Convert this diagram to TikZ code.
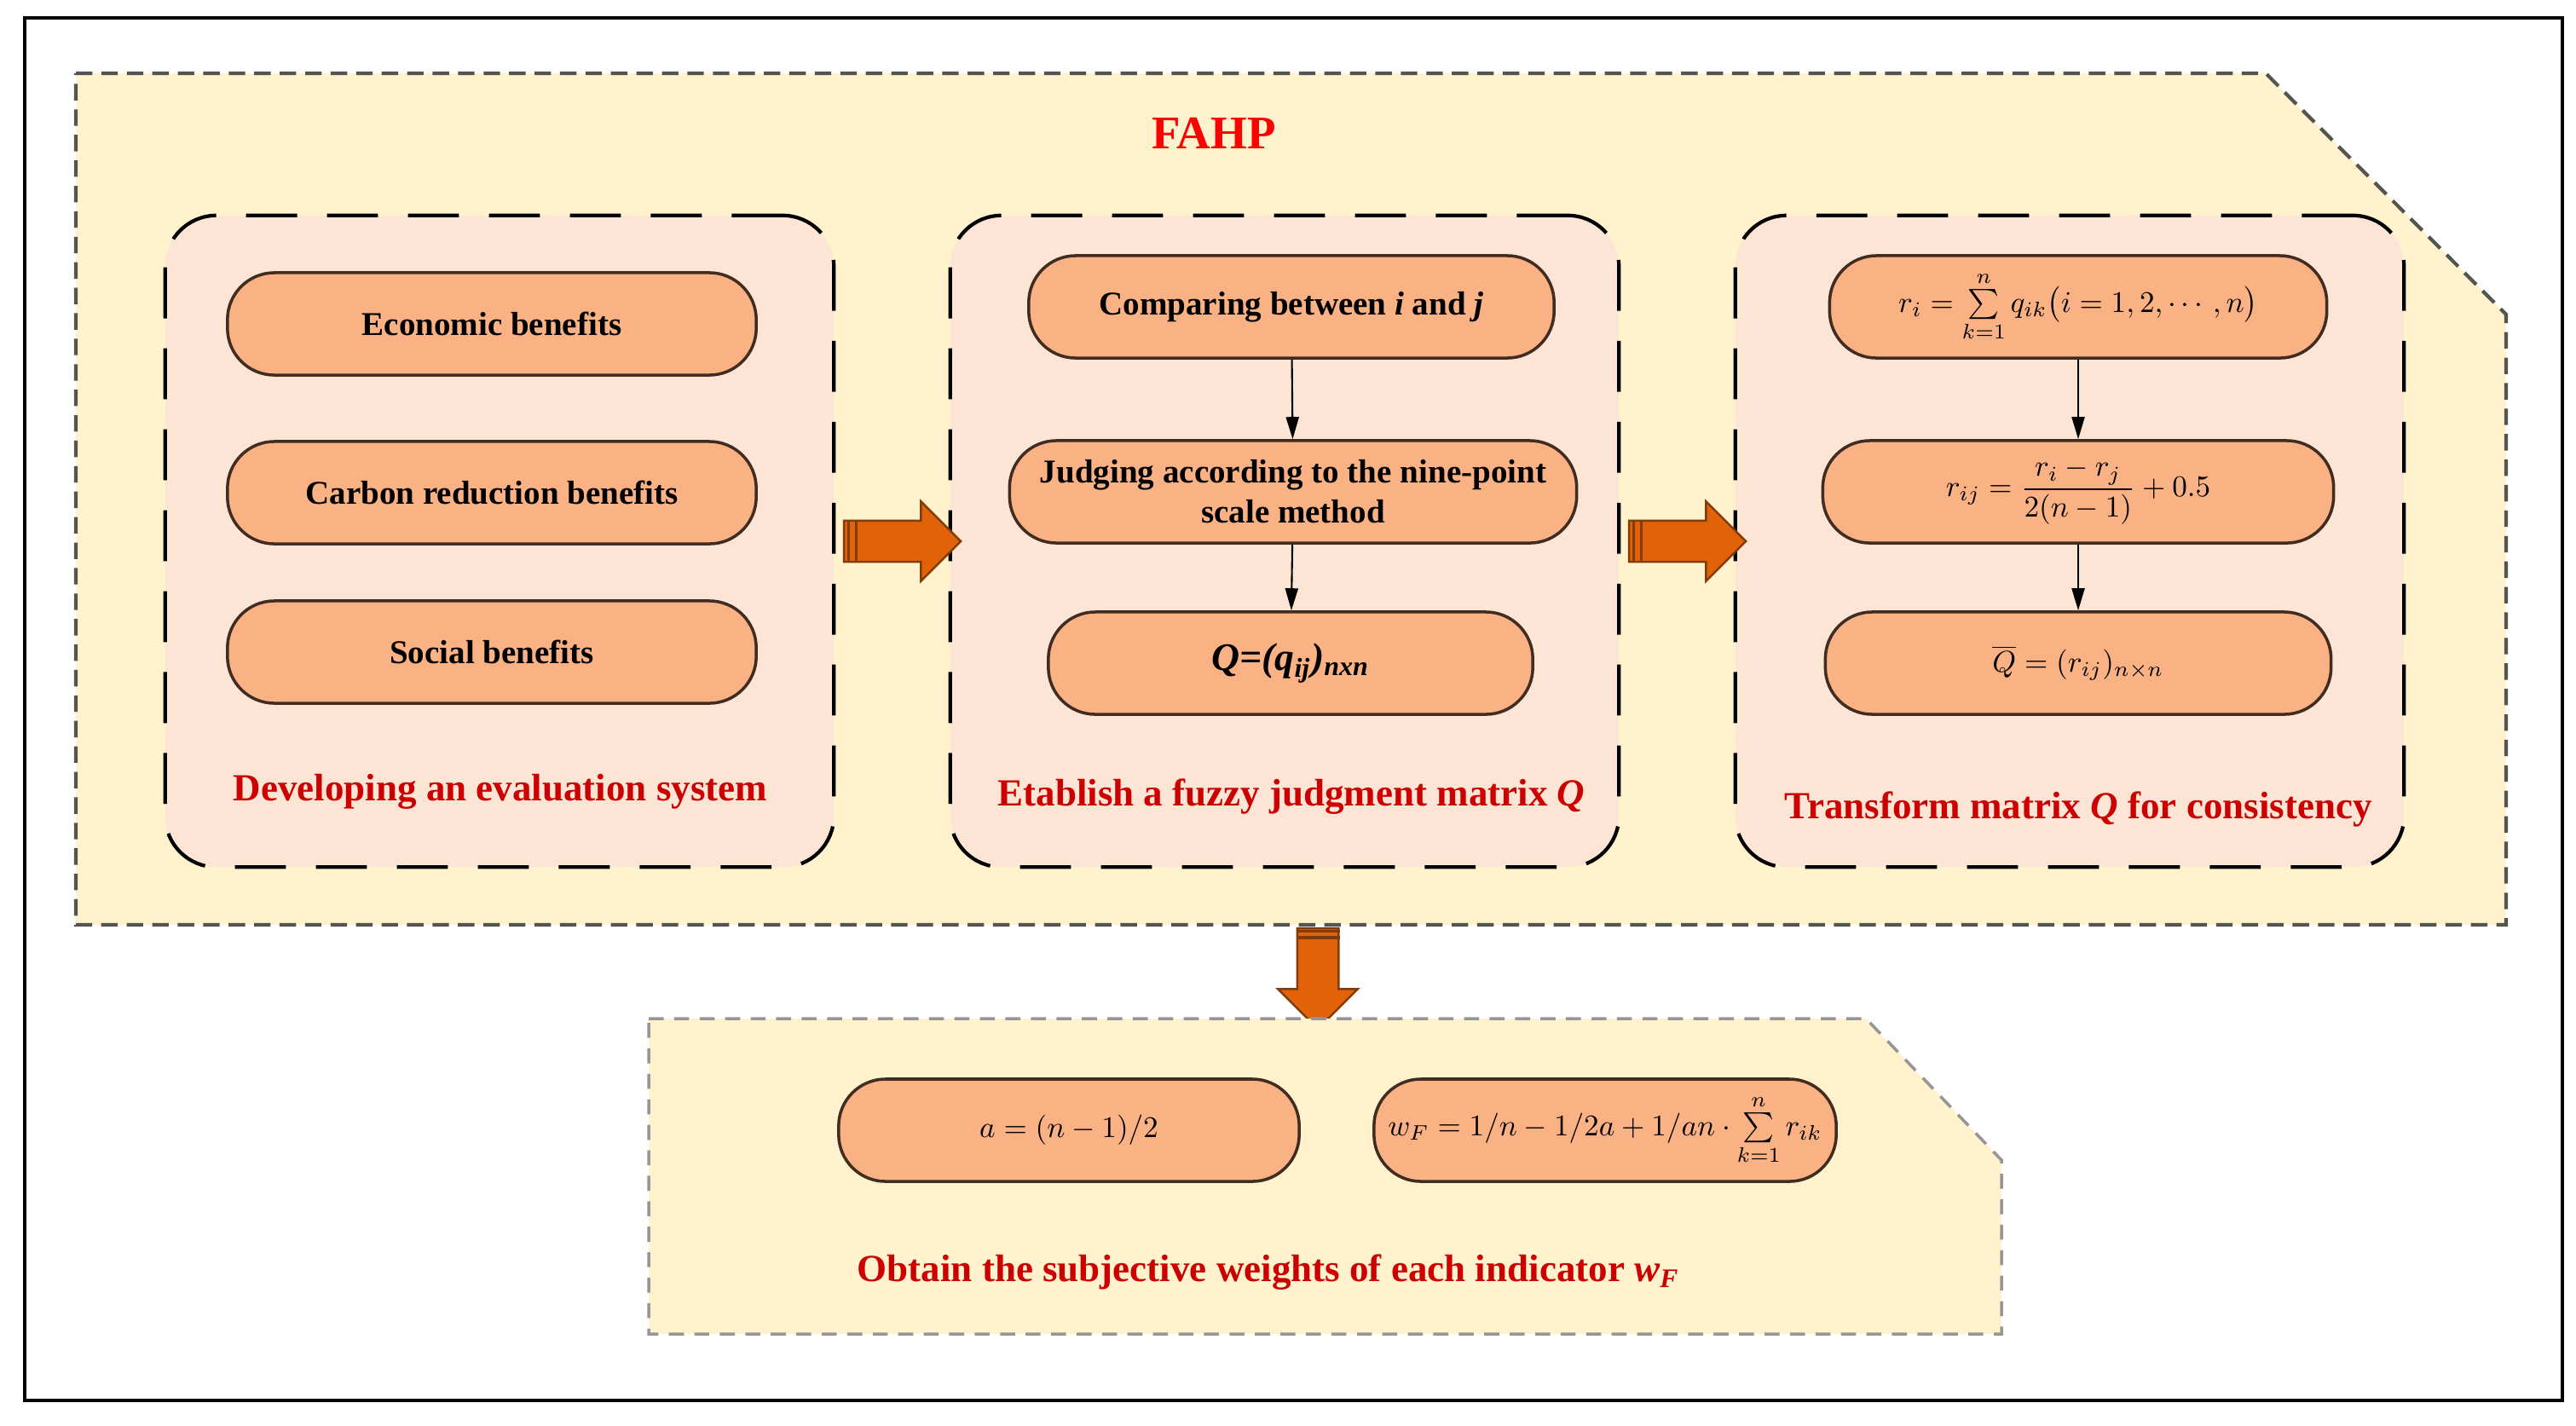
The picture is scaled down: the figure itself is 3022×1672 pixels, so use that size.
\documentclass[tikz,border=0pt]{standalone}
\usepackage{amsmath}
\usepackage{fontspec}
\setmainfont{Liberation Serif}
\usetikzlibrary{arrows.meta,shapes.arrows,calc}

\definecolor{regionfill}{RGB}{255,242,204}
\definecolor{regionedge}{RGB}{85,85,80}
\definecolor{lowedge}{RGB}{150,150,150}
\definecolor{panelfill}{RGB}{253,229,214}
\definecolor{pillfill}{RGB}{250,178,132}
\definecolor{pilledge}{RGB}{64,44,32}
\definecolor{arrowfill}{RGB}{226,98,10}
\definecolor{arrowedge}{RGB}{130,60,10}
\definecolor{labelred}{RGB}{204,0,0}
\definecolor{titlered}{RGB}{255,0,0}

\begin{document}
\begin{tikzpicture}[x=0.01cm,y=-0.01cm,
                panel/.style={draw=black,fill=panelfill,line width=1.2pt,dash pattern=on 17pt off 10pt,
                    rounded corners=0.6cm,minimum width=7.84cm,minimum height=7.64cm},
                pill/.style={draw=pilledge,fill=pillfill,line width=1pt,rounded corners=0.55cm,
                    minimum height=1.2cm,align=center,font=\bfseries\fontsize{11.1}{13.3}\selectfont},
                formula/.style={pill,font=\fontsize{10}{12}\selectfont},
                steplabel/.style={text=labelred,font=\bfseries\fontsize{12.8}{15}\selectfont},
                flow/.style={-{Triangle[length=0.26cm,width=0.15cm]},line width=0.6pt},
                bigarrow/.style={single arrow,fill=arrowfill,draw=arrowedge,line width=0.7pt,
                    inner sep=0.23cm,single arrow head extend=0.225cm},
                stripe/.style={arrowedge,line width=0.9pt}]
                \useasboundingbox (0,0) rectangle (3022,1672);
                \draw[line width=1.2pt] (29,21) rectangle (3006,1643);

                % FAHP region
                \draw[fill=regionfill,draw=regionedge,line width=1.2pt,dash pattern=on 5.5pt off 3pt]
                    (89,86) -- (2658,86) -- (2940,369) -- (2940,1085) -- (89,1085) -- cycle;
                \node[text=titlered,font=\bfseries\fontsize{15.6}{18}\selectfont] (fahp) at (1424,156) {FAHP};

                \node[panel] (p1) at (586,635) {};
                \node[panel] (p2) at (1507,635) {};
                \node[panel] (p3) at (2428,635) {};

                \node[pill,minimum width=6.2cm] (eco) at (577,380) {Economic benefits};
                \node[pill,minimum width=6.2cm] (carb) at (577,578) {Carbon reduction benefits};
                \node[pill,minimum width=6.2cm] (soc) at (577,765) {Social benefits};
                \node[steplabel] (l1) at (587,929) {Developing an evaluation system};

                \node[pill,minimum width=6.16cm] (cmp) at (1515,360) {Comparing between \textit{i} and \textit{j}};
                \node[pill,minimum width=6.65cm] (judge) at (1517,577) {Judging according to the nine-point\\scale method};
                \node[pill,minimum width=5.68cm,font=\bfseries\fontsize{13}{15}\selectfont] (qmat) at (1514,778) {\textit{Q=(q\textsubscript{ij})\textsubscript{nxn}}};
                \node[steplabel] (l2) at (1515,935) {Etablish a fuzzy judgment matrix \textit{Q}};

                \node[formula,minimum width=5.83cm] (ri) at (2438,360) {$r_i=\sum\limits_{k=1}^{n}q_{ik}\bigl(i=1,2,\cdots,n\bigr)$};
                \node[formula,minimum width=5.99cm] (rij) at (2438,577) {$r_{ij}=\dfrac{r_i-r_j}{2(n-1)}+0.5$};
                \node[formula,minimum width=5.93cm] (qbar) at (2438,778) {$\overline{Q}=(r_{ij})_{n\times n}$};
                \node[steplabel] (l3) at (2438,949) {Transform matrix \textit{Q} for consistency};

                \draw[flow] (cmp) -- (judge);
                \draw[flow] (judge) -- (qmat);
                \draw[flow] (ri) -- (rij);
                \draw[flow] (rij) -- (qbar);

                % block arrows
                \node[bigarrow,minimum height=1.37cm] (ar1) at ($(p1.east)!0.5!(p2.west)$) {};
                \node[bigarrow,minimum height=1.37cm] (ar2) at ($(p2.east)!0.5!(p3.west)$) {};
                \coordinate (fahpbot) at (1546,1077);
                \coordinate (wtop) at (1546,1195);
                \node[bigarrow,minimum height=1.18cm,shape border rotate=270] (ar3) at ($(fahpbot)!0.5!(wtop)$) {};
                \foreach \a in {ar1,ar2,ar3} {
                    \foreach \f in {0.07,0.17} {
                        \draw[stripe] ($(\a.before tail)!\f!(\a.after head)$) -- ($(\a.after tail)!\f!(\a.before head)$);
                    }
                }

                % weights region
                \draw[fill=regionfill,draw=lowedge,line width=1pt,dash pattern=on 5pt off 3.5pt]
                    (761,1195) -- (2189,1195) -- (2348,1361) -- (2348,1565) -- (761,1565) -- cycle;
                \node[formula,minimum width=5.4cm] (aval) at (1254,1326) {$a=(n-1)/2$};
                \node[formula,minimum width=5.42cm] (wf) at (1883,1326) {$w_F=1/n-1/2a+1/an\cdot\sum\limits_{k=1}^{n}r_{ik}$};
                \node[steplabel] (l4) at (1488,1493) {Obtain the subjective weights of each indicator \textit{w}\textsubscript{\textit{F}}};

            \end{tikzpicture}
\end{document}
